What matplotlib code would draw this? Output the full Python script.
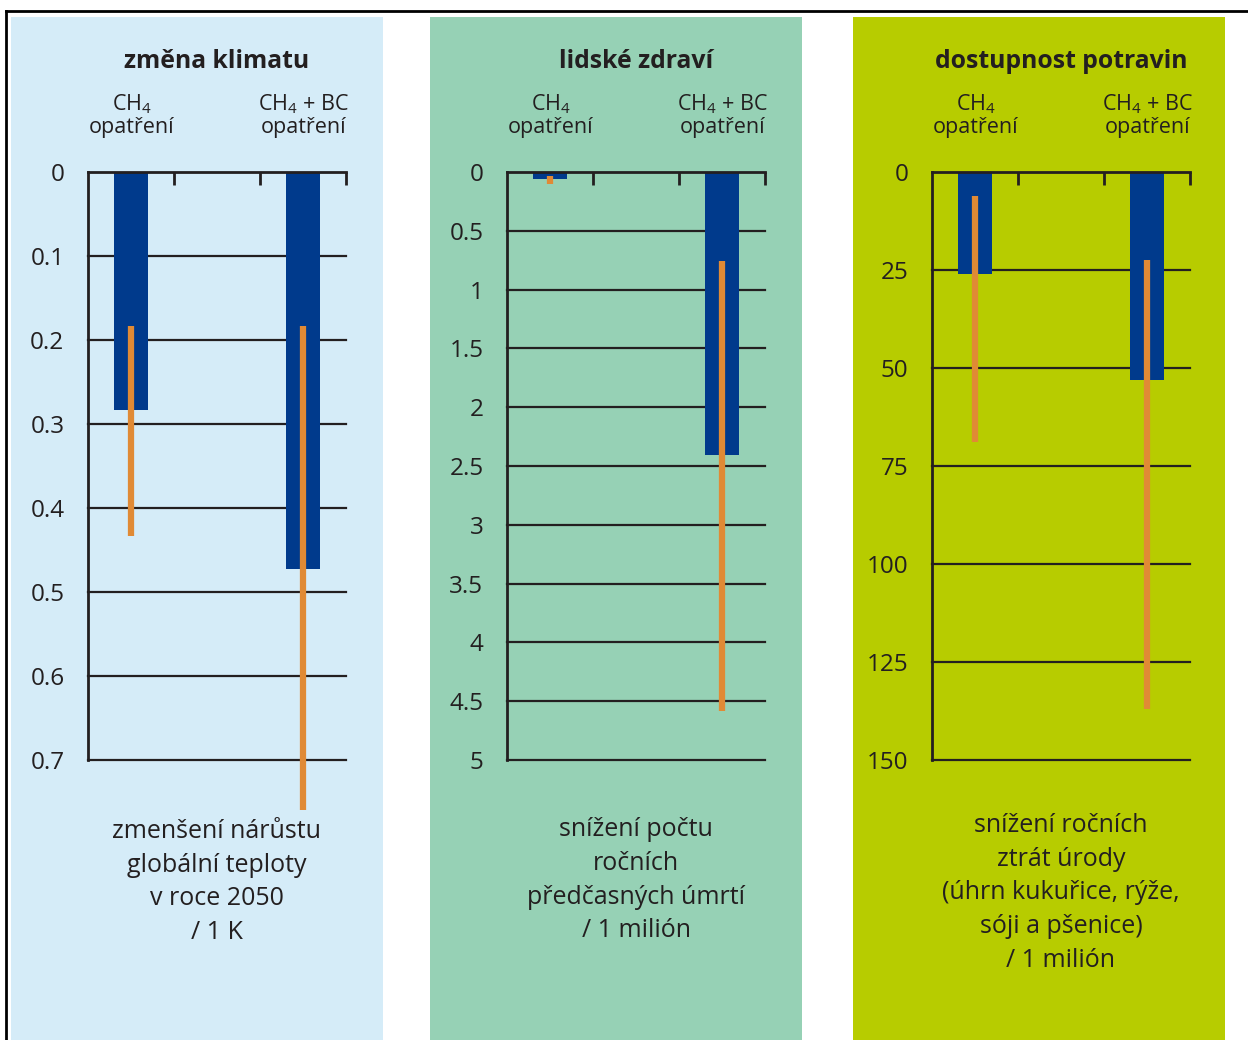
import numpy as np
import matplotlib.pyplot as plt
from matplotlib.patches import Rectangle
from matplotlib.lines import Line2D
import matplotlib.transforms as mtransforms

plt.rcParams['font.family'] = ['Open Sans', 'DejaVu Sans']
plt.rcParams['mathtext.fontset'] = 'custom'
plt.rcParams['mathtext.rm'] = 'Open Sans'
plt.rcParams['mathtext.it'] = 'Open Sans'
plt.rcParams['mathtext.bf'] = 'Open Sans:bold'

#data
categories = ['CH$_4$\nopatření', 'CH$_4$ + BC\nopatření']
titles = ['změna klimatu', 'lidské zdraví', 'dostupnost potravin']
captions = ['zmenšení nárůstu\nglobální teploty\nv roce 2050\n/ 1 K',
            'snížení počtu\nročních\npředčasných úmrtí\n/ 1 milión',
            'snížení ročních\nztrát úrody\n(úhrn kukuřice, rýže,\nsóji a pšenice)\n/ 1 milión']

climate_val = [0.283, 0.473]
climate_lo = [0.183, 0.183]
climate_hi = [0.433, 0.76]
climate_ticks = [0, 0.1, 0.2, 0.3, 0.4, 0.5, 0.6, 0.7]

health_val = [0.06, 2.41]
health_lo = [0.035, 0.76]
health_hi = [0.10, 4.58]
health_ticks = [0, 0.5, 1, 1.5, 2, 2.5, 3, 3.5, 4, 4.5, 5]

food_val = [26, 53]
food_lo = [6, 22.5]
food_hi = [69, 137]
food_ticks = [0, 25, 50, 75, 100, 125, 150]

panels = [
    (titles[0], captions[0], climate_val, climate_lo, climate_hi, climate_ticks, '#d5ecf8'),
    (titles[1], captions[1], health_val, health_lo, health_hi, health_ticks, '#96d1b5'),
    (titles[2], captions[2], food_val, food_lo, food_hi, food_ticks, '#b7cc00'),
]

W, H = 1248, 1040
fig = plt.figure(figsize=(W/100, H/100), dpi=100)
fig.patch.set_facecolor('white')

# layout in pixels
panel_x = [11, 430, 853]
panel_w = 372
axes_x = [88, 507, 932]
axes_w = 258
ax_top, ax_bot = 172, 760
cap_y = [-0.1, -0.097, -0.09]
ink = '#231f20'

# frame
fig.add_artist(Line2D([6/W, 1], [1-11/H, 1-11/H], color='black', lw=2, transform=fig.transFigure))
fig.add_artist(Line2D([6/W, 6/W], [0, 1-11/H], color='black', lw=2, transform=fig.transFigure))

pos = np.array([0.5, 2.5])
for i, (title, cap, val, lo, hi, ticks, bg) in enumerate(panels):
    fig.add_artist(Rectangle((panel_x[i]/W, 0), panel_w/W, 1-17/H, facecolor=bg,
                             edgecolor='none', transform=fig.transFigure, zorder=0))
    ax = fig.add_axes([axes_x[i]/W, 1-ax_bot/H, axes_w/W, (ax_bot-ax_top)/H])
    ax.patch.set_alpha(0)
    ax.bar(pos, val, width=0.4, color='#003a8c', zorder=2)
    ax.vlines(pos, lo, hi, color='#e08a35', lw=4.5, zorder=3, clip_on=False)
    ax.set_xlim(0, 3)
    ax.set_ylim(ticks[-1], 0)
    ax.set_yticks(ticks)
    ax.set_yticklabels(['%g' % t for t in ticks])
    ax.set_xticks([1, 2, 3])
    ax.tick_params(axis='x', top=True, bottom=False, direction='in', length=9, width=2,
                   labeltop=False, labelbottom=False, color=ink)
    ax.tick_params(axis='y', length=0, pad=17, labelsize=17.5, labelcolor=ink)
    for t in ticks[1:]:
        ax.axhline(t, color=ink, lw=1.6, zorder=1, clip_on=False)
    for s in ['right', 'bottom']:
        ax.spines[s].set_visible(False)
    for s in ['left', 'top']:
        ax.spines[s].set_linewidth(2)
        ax.spines[s].set_color(ink)
    ax.text(0.5, 1.188, title, transform=ax.transAxes, ha='center', va='center',
            fontsize=17.8, fontweight='bold', color=ink)
    trans = mtransforms.blended_transform_factory(ax.transData, ax.transAxes)
    for p, c in zip(pos, categories):
        ax.text(p + 0.01, 1.097, c, transform=trans, ha='center', va='center',
                fontsize=15.5, color=ink, linespacing=1.05)
    ax.text(0.5, cap_y[i], cap, transform=ax.transAxes, ha='center', va='top',
            fontsize=18, color=ink, linespacing=1.46)

plt.savefig('out.png', dpi=100)
